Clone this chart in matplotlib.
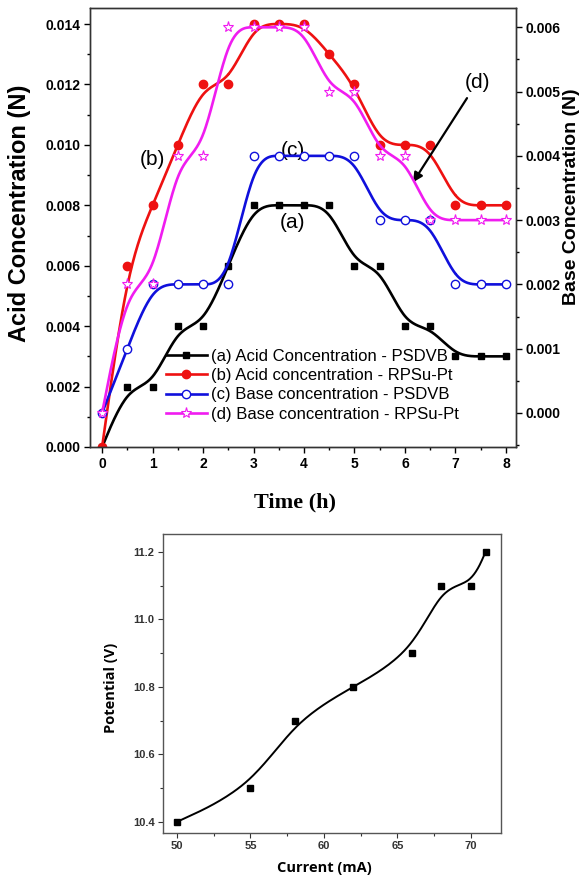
import numpy as np
import matplotlib.pyplot as plt
from matplotlib.lines import Line2D
from matplotlib.ticker import MultipleLocator, FormatStrFormatter

# time points (h)
time_h = [0, 0.5, 1, 1.5, 2, 2.5, 3, 3.5, 4, 4.5, 5, 5.5, 6, 6.5, 7, 7.5, 8]

# acid concentration (N), left axis
acid_psdvb = [0.000, 0.002, 0.002, 0.004, 0.004, 0.006, 0.008, 0.008, 0.008,
              0.008, 0.006, 0.006, 0.004, 0.004, 0.003, 0.003, 0.003]
acid_rpsu = [0.000, 0.006, 0.008, 0.010, 0.012, 0.012, 0.014, 0.014, 0.014,
             0.013, 0.012, 0.010, 0.010, 0.010, 0.008, 0.008, 0.008]

# base concentration (N), right axis
base_psdvb = [0.000, 0.001, 0.002, 0.002, 0.002, 0.002, 0.004, 0.004, 0.004,
              0.004, 0.004, 0.003, 0.003, 0.003, 0.002, 0.002, 0.002]
base_rpsu = [0.000, 0.002, 0.002, 0.004, 0.004, 0.006, 0.006, 0.006, 0.006,
             0.005, 0.005, 0.004, 0.004, 0.003, 0.003, 0.003, 0.003]

# potential vs current
current_ma = [50, 55, 58, 62, 66, 68, 70, 71]
potential_v = [10.4, 10.5, 10.7, 10.8, 10.9, 11.1, 11.1, 11.2]

labels = ["(a) Acid Concentration - PSDVB",
          "(b) Acid concentration - RPSu-Pt",
          "(c) Base concentration - PSDVB",
          "(d) Base concentration - RPSu-Pt"]


def bspline(x, y, n=30):
    # uniform cubic B-spline, clamped at both ends
    px = np.r_[x[0], x[0], x, x[-1], x[-1]].astype(float)
    py = np.r_[y[0], y[0], y, y[-1], y[-1]].astype(float)
    t = np.linspace(0, 1, n)
    b = np.array([(1 - t) ** 3, 3 * t ** 3 - 6 * t ** 2 + 4,
                  -3 * t ** 3 + 3 * t ** 2 + 3 * t + 1, t ** 3]) / 6
    xs, ys = [], []
    for i in range(len(px) - 3):
        xs.append(b.T @ px[i:i + 4])
        ys.append(b.T @ py[i:i + 4])
    return np.concatenate(xs), np.concatenate(ys)


SANS = ["Liberation Sans", "DejaVu Sans"]

fig = plt.figure(figsize=(5.87, 8.81), dpi=100)
ax = fig.add_axes([90 / 587, 1 - 447 / 881, 426 / 587, 439 / 881])
ax2 = ax.twinx()

styles = [
    (ax, acid_psdvb, "black", dict(marker="s", ms=5, mfc="black", mec="black")),
    (ax, acid_rpsu, "#ee1111", dict(marker="o", ms=6, mfc="#ee1111", mec="#ee1111")),
    (ax2, base_psdvb, "#1010dc", dict(marker="o", ms=6, mfc="white", mec="#1010dc", mew=1)),
    (ax2, base_rpsu, "#f01cf0", dict(marker="*", ms=8, mfc="white", mec="#f01cf0", mew=0.8)),
]
handles = []
for a, vals, col, mk in styles:
    sx, sy = bspline(time_h, vals)
    a.plot(sx, sy, color=col, lw=1.9)
    a.plot(time_h, vals, ls="none", **mk)
    handles.append(Line2D([], [], color=col, lw=1.9, **mk))

ax.set_xlim(-0.24, 8.2)
ax.set_ylim(0, 0.01453)
ax2.set_ylim(-0.00053, 0.0063)

ax.xaxis.set_major_locator(MultipleLocator(1))
ax.xaxis.set_minor_locator(MultipleLocator(0.5))
ax.yaxis.set_major_locator(MultipleLocator(0.002))
ax.yaxis.set_minor_locator(MultipleLocator(0.001))
ax.yaxis.set_major_formatter(FormatStrFormatter("%.3f"))
ax2.yaxis.set_major_locator(MultipleLocator(0.001))
ax2.yaxis.set_minor_locator(MultipleLocator(0.0005))
ax2.yaxis.set_major_formatter(FormatStrFormatter("%.3f"))

for a in (ax, ax2):
    a.tick_params(which="major", direction="out", length=4, width=1, pad=3,
                  labelsize=10)
    a.tick_params(which="minor", direction="out", length=2.5, width=1)
    for lab in a.get_xticklabels() + a.get_yticklabels():
        lab.set_fontweight("bold")
        lab.set_family(SANS)
    for sp in a.spines.values():
        sp.set_color("#333333")
        sp.set_linewidth(1)

fig.text(20 / 587, 1 - 213 / 881, "Acid Concentration (N)", rotation=90,
         ha="center", va="center", fontsize=17, fontweight="bold", family=SANS)
fig.text(572 / 587, 1 - 197 / 881, "Base Concentration (N)", rotation=90,
         ha="center", va="center", fontsize=14, fontweight="bold", family=SANS)
fig.text(295 / 587, 1 - 502 / 881, "Time (h)", ha="center", va="center",
         fontsize=16, fontweight="bold", family=["Liberation Serif", "DejaVu Serif"])

ax.text(0.99, 0.00952, "(b)", ha="center", va="center", fontsize=15, family=SANS)
ax.text(3.78, 0.00982, "(c)", ha="center", va="center", fontsize=15, family=SANS)
ax.text(3.78, 0.00743, "(a)", ha="center", va="center", fontsize=15, family=SANS)
ax.annotate("(d)", xy=(6.16, 0.00876), xytext=(7.43, 0.01207),
            ha="center", va="center", fontsize=15, family=SANS,
            arrowprops=dict(arrowstyle="-|>", color="black", lw=1.6,
                            mutation_scale=14, shrinkA=3, shrinkB=0))

leg = ax.legend(handles, labels, loc="upper left",
                bbox_to_anchor=(166 / 587, 1 - 349 / 881),
                bbox_transform=fig.transFigure, frameon=False, borderpad=0,
                borderaxespad=0, handlelength=2.45, handletextpad=0.25,
                labelspacing=0.25, numpoints=1,
                prop=dict(family=SANS, size=12))

# potential vs current panel
bx = fig.add_axes([163 / 587, 1 - 833 / 881, 338 / 587, 299 / 881])
cx, cy = bspline(current_ma, potential_v)
bx.plot(cx, cy, color="black", lw=1.4)
bx.plot(current_ma, potential_v, ls="none", marker="s", ms=4.5, color="black")
bx.set_xlim(49.05, 72.05)
bx.set_ylim(10.367, 11.253)
bx.xaxis.set_major_locator(MultipleLocator(5))
bx.xaxis.set_minor_locator(MultipleLocator(2.5))
bx.yaxis.set_major_locator(MultipleLocator(0.2))
bx.yaxis.set_minor_locator(MultipleLocator(0.1))
bx.yaxis.set_major_formatter(FormatStrFormatter("%.1f"))
bx.tick_params(which="major", direction="out", length=3.5, width=0.8, pad=2.5,
               labelsize=8, colors="#333333")
bx.tick_params(which="minor", direction="out", length=2, width=0.8,
               colors="#333333")
for lab in bx.get_xticklabels() + bx.get_yticklabels():
    lab.set_fontweight("bold")
    lab.set_family(SANS)
for sp in bx.spines.values():
    sp.set_color("#555555")
    sp.set_linewidth(1)

fig.text(324 / 587, 1 - 868 / 881, "Current (mA)", ha="center", va="center",
         fontsize=10.5, fontweight="bold", family=["Open Sans", "DejaVu Sans"])
fig.text(111 / 587, 1 - 688 / 881, "Potential (V)", rotation=90, ha="center",
         va="center", fontsize=10.5, fontweight="bold",
         family=["Open Sans", "DejaVu Sans"])

fig.savefig("out.png", dpi=100)
